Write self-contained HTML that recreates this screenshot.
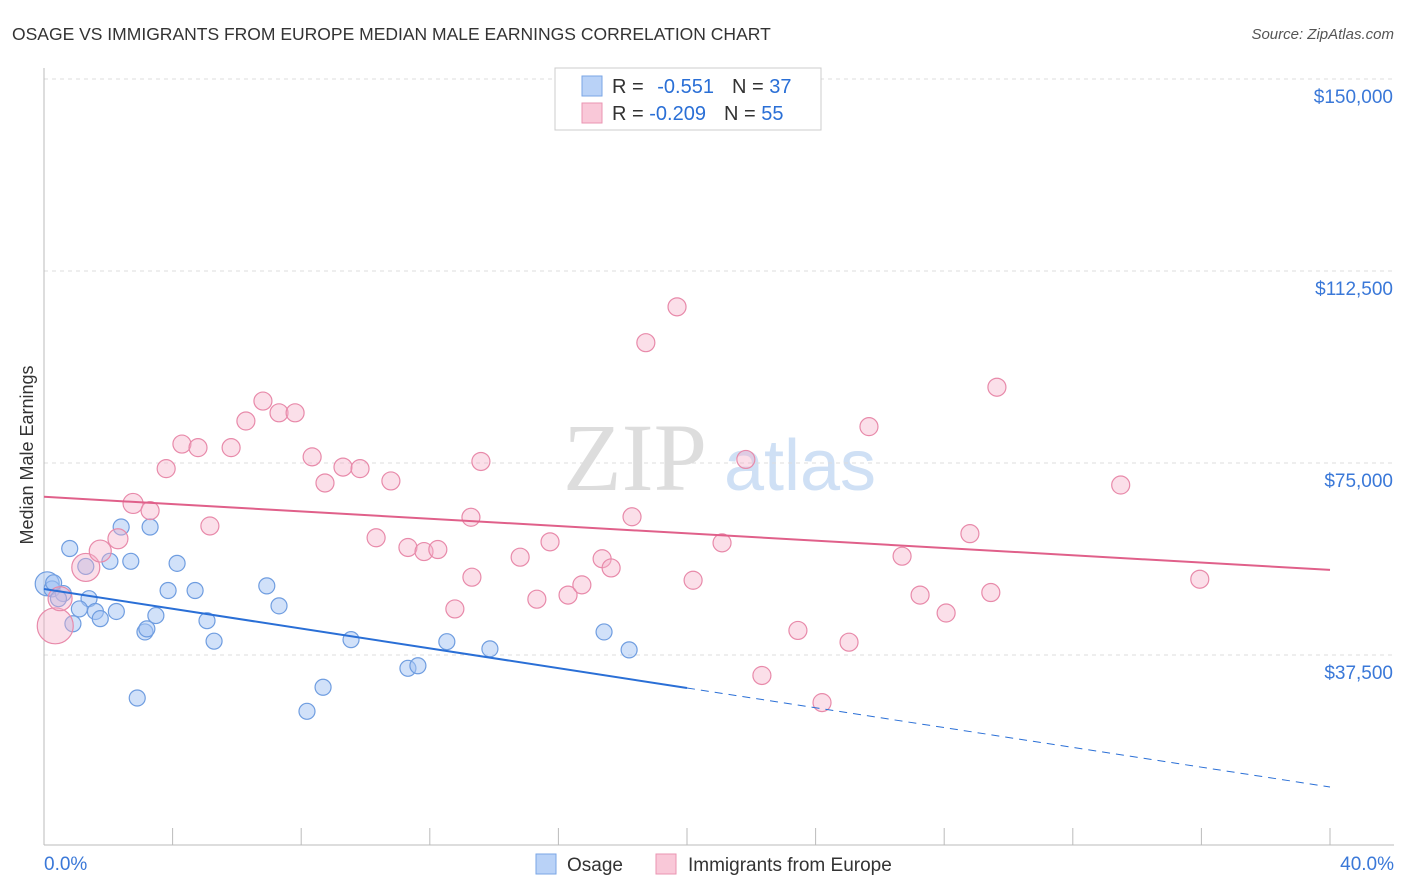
<!DOCTYPE html>
<html><head><meta charset="utf-8"><style>
body{margin:0;background:#fff;font-family:"Liberation Sans",sans-serif;}
svg{display:block}
</style></head><body>
<svg id="chart" width="1406" height="892">
<text x="12" y="40" font-size="17.5" fill="#333">OSAGE VS IMMIGRANTS FROM EUROPE MEDIAN MALE EARNINGS CORRELATION CHART</text>
<text x="1394" y="39" font-size="15" fill="#555" text-anchor="end" font-style="italic">Source: ZipAtlas.com</text>
<text x="33" y="455" font-size="18" fill="#333" text-anchor="middle" transform="rotate(-90 33 455)">Median Male Earnings</text>
<g><text x="635" y="490" font-size="96" fill="#ddd" font-family="Liberation Serif,serif" text-anchor="middle">ZIP</text><text x="800" y="490" font-size="72" fill="#cfe0f5" text-anchor="middle">atlas</text></g>
<g id="grid"></g><g id="marks"></g>
<g>
<rect x="555" y="68" width="266" height="62" fill="#fff" stroke="#ccc"/>
<rect x="582" y="76" width="20" height="20" fill="#b9d2f7" stroke="#7aa6e6"/>
<text x="612" y="93" font-size="20" fill="#333">R = <tspan dx="8" fill="#2a6fd6">-0.551</tspan><tspan dx="18">N = </tspan><tspan fill="#2a6fd6">37</tspan></text>
<rect x="582" y="103" width="20" height="20" fill="#f9c8d8" stroke="#ea94b2"/>
<text x="612" y="120" font-size="20" fill="#333">R = <tspan fill="#2a6fd6">-0.209</tspan><tspan dx="18">N = </tspan><tspan fill="#2a6fd6">55</tspan></text>
</g>
<g>
<rect x="536" y="854" width="20" height="20" fill="#b9d2f7" stroke="#7aa6e6"/>
<text x="567" y="871" font-size="19" fill="#333">Osage</text>
<rect x="656" y="854" width="20" height="20" fill="#f9c8d8" stroke="#ea94b2"/>
<text x="688" y="871" font-size="19" fill="#333">Immigrants from Europe</text>
</g>
</svg>
<script>
const yTicks=[37500,75000,112500,150000];
const yTickLabels=["$37,500","$75,000","$112,500","$150,000"];
const xTicks=[0,4,8,12,16,20,24,28,32,36,40];
const blueX=[0.1,0.25,0.6,0.45,0.8,1.3,1.4,1.1,1.6,0.9,1.75,2.05,2.25,2.4,2.7,3.3,2.9,3.14,3.2,3.48,3.86,4.14,4.7,5.07,5.29,6.93,7.31,8.18,8.68,9.55,11.32,11.63,12.53,13.87,17.42,18.2,0.3];
const blueY=[51400,50400,49500,48500,58300,54800,48500,46500,46000,43600,44600,55800,46000,62500,55800,62500,29100,42000,42600,45200,50100,55400,50100,44200,40200,51000,47100,26500,31200,40500,34900,35400,40100,38700,42000,38500,51600];
const pinkX=[0.35,0.5,1.3,1.75,2.3,2.77,3.3,3.8,4.29,4.79,5.16,5.82,6.28,6.81,7.31,7.81,8.34,8.74,9.3,9.83,10.33,10.79,11.32,11.82,12.25,12.78,13.31,13.59,13.28,14.81,15.33,15.74,16.3,16.73,17.36,17.64,18.29,18.72,19.69,20.19,21.09,21.83,22.33,23.45,24.2,25.04,25.66,26.69,27.25,28.06,28.8,29.45,29.64,33.49,35.95];
const pinkY=[43200,48500,54600,57800,60200,67100,65700,73900,78700,78000,62700,78000,83200,87100,84800,84800,76200,71100,74200,73900,60400,71500,58500,57700,58100,46500,52700,75300,64400,56600,48400,59600,49200,51200,56300,54500,64500,98500,105500,52100,59400,75700,33500,42300,28200,40000,82100,56800,49200,45700,61200,49700,89800,70700,52300];
const pinkR=[18,12,14,11,10,10,9,9,9,9,9,9,9,9,9,9,9,9,9,9,9,9,9,9,9,9,9,9,9,9,9,9,9,9,9,9,9,9,9,9,9,9,9,9,9,9,9,9,9,9,9,9,9,9,9];
const blueTrend=[50400,-967];
const pinkTrend=[68400,-357];
const X=v=>44+v*32.15, Y=v=>79+(150000-v)*192/37500;
const NS="http://www.w3.org/2000/svg";
const grid=document.getElementById('grid'), marks=document.getElementById('marks');
function mk(tag,at,p){const e=document.createElementNS(NS,tag);for(const k in at)e.setAttribute(k,at[k]);p.appendChild(e);return e;}
yTicks.forEach((t,i)=>{
 const l=mk('line',{x1:44,x2:1394,y1:Y(t),y2:Y(t),stroke:'#ddd','stroke-dasharray':'4 4'},grid);
 
 
 const tx=mk('text',{x:1393,y:Y(t)+24,'font-size':19,fill:'#3a78d8','text-anchor':'end'},grid);
 tx.textContent=yTickLabels[i];
 
 
});
const ax=mk('line',{x1:44,x2:1394,y1:845,y2:845,stroke:'#bbb'},grid);


const ay=mk('line',{x1:44,x2:44,y1:68,y2:845,stroke:'#bbb'},grid);


xTicks.forEach(t=>{const l=mk('line',{x1:X(t),x2:X(t),y1:828,y2:845,stroke:'#bbb'},grid);
 
 });
[[0,"0.0%",'start',44],[40,"40.0%",'end',1394]].forEach(a=>{const t=mk('text',{x:a[3],y:870,'font-size':19,fill:'#3a78d8','text-anchor':a[2]},grid);t.textContent=a[1];
 
 });
blueX.forEach((x,i)=>{const c=mk('circle',{cx:X(x),cy:Y(blueY[i]),r:i==0?12:8,fill:'rgba(164,196,244,0.5)',stroke:'#6f9de0','stroke-width':1.2},marks);
 
 });
pinkX.forEach((x,i)=>{const c=mk('circle',{cx:X(x),cy:Y(pinkY[i]),r:pinkR[i],fill:'rgba(246,176,200,0.4)',stroke:'#e88aaa','stroke-width':1.2},marks);
 
 });
const bt=x=>blueTrend[0]+blueTrend[1]*x, pt=x=>pinkTrend[0]+pinkTrend[1]*x;
const bl=mk('line',{x1:X(0),y1:Y(bt(0)),x2:X(20),y2:Y(bt(20)),stroke:'#2a6fd6','stroke-width':2},marks);


const bd=mk('line',{x1:X(20),y1:Y(bt(20)),x2:X(40),y2:Y(bt(40)),stroke:'#2a6fd6','stroke-width':1,'stroke-dasharray':'8 6'},marks);


const pl=mk('line',{x1:X(0),y1:Y(pt(0)),x2:X(40),y2:Y(pt(40)),stroke:'#e0608a','stroke-width':2},marks);


</script>
</body></html>
